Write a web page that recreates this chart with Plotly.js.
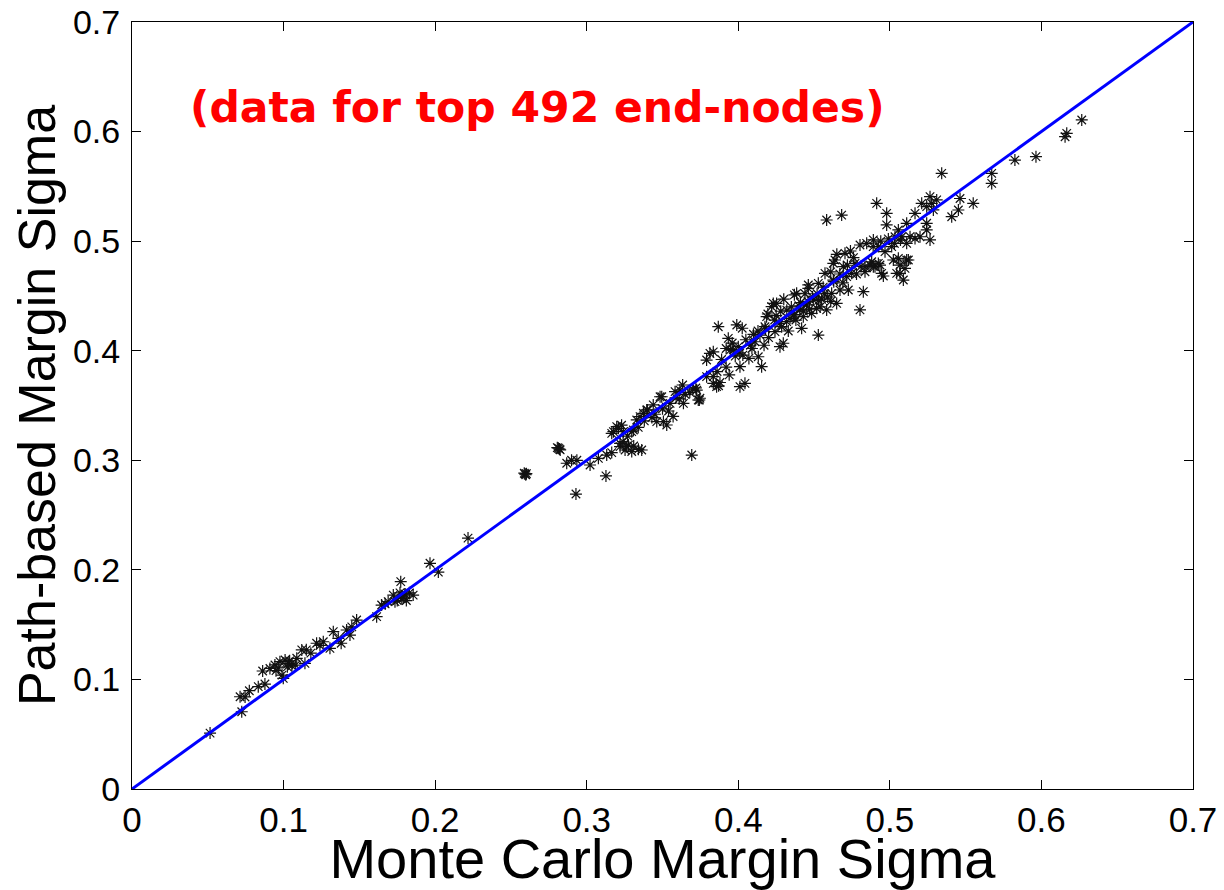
<!DOCTYPE html>
<html>
<head>
<meta charset="utf-8">
<script src="https://cdn.plot.ly/plotly-3.0.1.min.js"></script>
<style>
  html, body { margin: 0; padding: 0; background: #fff; }
  #chart { width: 1224px; height: 890px; }
</style>
</head>
<body>
<div id="chart"></div>
<script>
// Monte Carlo margin sigma (x) vs path-based margin sigma (y)
const mcSigma = [
  0.0515,0.0724,0.0713,0.0746,0.0774,0.0833,0.0877,0.0862,0.091,0.0943,0.0976,0.101,0.1031,0.0998,0.099,0.1087,0.112,0.115,0.1141,0.1218,
  0.1262,0.1306,0.1328,0.1361,0.138,0.1416,0.1438,0.1482,0.1614,0.1647,0.167,0.1724,0.1768,0.179,0.183,0.1855,0.181,0.175,0.1735,0.1773,
  0.1966,0.2021,0.2217,0.1055,0.0965,0.104,0.1025,
  0.095,0.108,0.118,0.124,0.145,0.169,0.178,0.180,
  0.2593,0.2598,0.2588,0.2602,0.2813,0.2820,0.2806,0.2825,0.2868,0.290,0.2935,0.2929,0.3022,0.3077,0.3127,0.3132,0.3165,0.3176,0.3209,0.323,
  0.322,0.3253,0.3275,0.3297,0.331,0.3341,0.3363,0.3297,0.333,0.3374,0.340,0.3439,0.343,0.3462,0.3495,0.3528,0.354,0.357,0.3583,0.3633,
  0.361,0.3638,0.368,0.372,0.3743,0.3693,0.3835,0.387,0.394,
  0.3484,0.3615,0.3726,0.3736,0.3396,0.3506,0.3352,0.3198,0.3242,0.3308,0.3165,0.322,0.3264,0.3835,0.3857,0.4011,0.3813,0.3791,
  0.334,0.338,0.345,0.350,0.355,0.359,0.365,0.370,0.327,0.324,
  0.3868,0.399,0.4026,0.3835,0.3791,0.3879,0.3747,0.3934,0.396,0.392,0.3967,0.400,0.4011,0.4044,0.403,0.407,0.409,0.411,0.4143,0.4154,
  0.4132,0.4176,0.4187,0.422,0.4253,0.4242,0.4275,0.4297,0.4286,0.4319,0.4341,0.4363,0.4385,0.4407,0.4418,0.4429,0.4451,0.4462,0.4484,0.4495,
  0.4528,0.4528,0.4517,0.455,0.4572,0.4583,0.4616,0.4627,0.4649,0.4671,0.4638,0.4693,0.4726,0.4715,0.4803,0.4825,0.4748,0.4770,0.4836,0.4880,
  0.4946,0.5045,0.4627,0.4704,0.4462,0.4370,0.4231,0.4195,
  0.427,0.433,0.438,0.441,0.447,0.452,0.456,0.459,0.444,0.435,0.420,0.417,0.425,0.430,0.410,0.405,0.398,0.392,0.389,0.386,
  0.432,0.437,0.440,0.443,0.446,0.449,0.453,0.428,0.424,0.418,0.413,0.408,0.401,0.395,0.463,0.467,0.472,0.454,0.457,0.461,
  0.4913,0.4979,0.4979,0.5342,0.521,0.5265,0.5276,0.5243,0.5309,0.5287,0.5166,0.5111,0.5243,0.5243,0.5056,0.5034,0.5078,0.5133,0.5166,0.5199,
  0.5265,0.5111,0.4891,0.4847,0.4803,0.5012,0.4924,0.4968,0.5056,0.5111,0.5067,0.510,0.4869,0.4902,0.4935,0.4836,0.4957,0.5089,
  0.5463,0.555,0.5452,0.5408,0.5672,0.5672,0.5825,0.5964,0.6167,0.6156,0.6266,0.4583,0.4682,
  0.5023,0.5067,0.5122,0.4891,0.4924,
  0.499,0.503,0.507,0.494,0.489,0.465,0.461,0.469,0.476,0.478,0.481,0.474
];
const pathSigma = [
  0.051,0.0705,0.0842,0.084,0.0897,0.0934,0.0958,0.1077,0.110,0.1132,0.1162,0.1177,0.1147,0.101,0.104,0.1193,0.1269,0.127,0.1147,0.133,
  0.1344,0.1284,0.1436,0.1375,0.133,0.1451,0.1405,0.1542,0.1573,0.1679,0.169,0.177,0.179,0.175,0.179,0.177,0.172,0.172,0.171,0.1892,
  0.206,0.198,0.229,0.1125,0.1105,0.117,0.1115,
  0.108,0.113,0.124,0.131,0.148,0.171,0.174,0.178,
  0.2875,0.2868,0.2882,0.2878,0.311,0.3102,0.3115,0.3095,0.2973,0.300,0.300,0.2692,0.2957,0.3018,0.2857,0.3048,0.307,0.3261,0.3292,0.332,
  0.3124,0.3094,0.3139,0.308,0.313,0.310,0.3094,0.3261,0.3368,0.3429,0.346,0.3505,0.339,0.3353,0.358,0.3322,0.345,0.340,0.3626,0.3687,
  0.356,0.352,0.362,0.366,0.355,0.3048,0.3763,0.368,0.378,
  0.358,0.3641,0.3641,0.3550,0.3459,0.3353,0.3398,0.3307,0.3261,0.3276,0.3246,0.3155,0.3124,0.3702,0.3672,0.3672,0.3976,0.3915,
  0.330,0.336,0.342,0.347,0.352,0.357,0.360,0.365,0.322,0.317,
  0.4219,0.4235,0.4205,0.399,0.3763,0.371,0.3566,0.4113,0.407,0.402,0.4007,0.4037,0.3854,0.3702,0.396,0.393,0.402,0.4082,0.4143,0.3854,
  0.3945,0.4219,0.4311,0.4402,0.4432,0.4174,0.4037,0.4068,0.4219,0.4265,0.4296,0.4326,0.4524,0.437,0.4204,0.4311,0.4417,0.4569,0.4341,0.4463,
  0.4143,0.4615,0.4387,0.447,0.4706,0.4372,0.4524,0.4645,0.4432,0.4554,0.4828,0.4767,0.4554,0.4676,0.4372,0.4539,0.4706,0.4797,0.4767,0.4812,
  0.4706,0.4706,0.4798,0.4889,0.46,0.4510,0.4432,0.4335,
  0.425,0.418,0.428,0.444,0.438,0.452,0.458,0.449,0.452,0.440,0.412,0.405,0.432,0.447,0.415,0.410,0.395,0.385,0.392,0.381,
  0.437,0.433,0.441,0.436,0.445,0.449,0.446,0.436,0.428,0.420,0.418,0.405,0.398,0.401,0.463,0.470,0.478,0.440,0.452,0.445,
  0.5345,0.5254,0.5148,0.5619,0.5345,0.5406,0.5345,0.5315,0.5376,0.5285,0.5254,0.5163,0.5163,0.5102,0.5102,0.504,0.504,0.5041,0.5025,0.504,
  0.5011,0.4980,0.5011,0.4980,0.4965,0.4950,0.4950,0.4904,0.4843,0.4828,0.4782,0.4752,0.4782,0.4767,0.4782,0.4721,0.4682,0.4645,
  0.5389,0.5345,0.5284,0.5223,0.5619,0.5527,0.574,0.5771,0.5984,0.5953,0.6106,0.5193,0.5238,
  0.4828,0.4706,0.4828,0.4767,0.4797,
  0.502,0.498,0.501,0.500,0.495,0.488,0.472,0.462,0.485,0.470,0.477,0.491
];
// reference line y = x
const refLineX = [0, 0.7];
const refLineY = [0, 0.7];

const xTicks = [0, 0.1, 0.2, 0.3, 0.4, 0.5, 0.6, 0.7];
const xTickText = ['0', '0.1', '0.2', '0.3', '0.4', '0.5', '0.6', '0.7'];
const yTicks = [0, 0.1, 0.2, 0.3, 0.4, 0.5, 0.6, 0.7];
const yTickText = ['0', '0.1', '0.2', '0.3', '0.4', '0.5', '0.6', '0.7'];

const annotationText = '(data for top 492 end-nodes)';
const xTitle = 'Monte Carlo Margin Sigma';
const yTitle = 'Path-based Margin Sigma';

const traces = [
  {
    x: mcSigma, y: pathSigma, type: 'scatter', mode: 'markers',
    marker: { symbol: 'asterisk-open', size: 10, color: '#111', line: { color: '#111', width: 1.2 } },
    hoverinfo: 'x+y', showlegend: false
  },
  {
    x: refLineX, y: refLineY, type: 'scatter', mode: 'lines',
    line: { color: '#0000ff', width: 3 }, showlegend: false
  }
];

const FONT = 'Liberation Sans, Arial, sans-serif';
const axisCommon = {
  showgrid: false, zeroline: false, showline: true, linecolor: '#000', linewidth: 1,
  mirror: 'ticks', ticks: 'inside', ticklen: 9, tickwidth: 1, tickcolor: '#000',
  tickmode: 'array', fixedrange: true
};

const layout = {
  width: 1224, height: 890,
  margin: { l: 132, r: 31, t: 22, b: 101, pad: 0 },
  paper_bgcolor: '#fff', plot_bgcolor: '#fff',
  xaxis: Object.assign({}, axisCommon, {
    range: [0, 0.7], tickvals: xTicks, ticktext: xTickText,
    tickfont: { family: FONT, size: 35, color: '#000' },
    ticklabelstandoff: 0,
    title: { text: xTitle, font: { family: FONT, size: 56, color: '#000' }, standoff: 0 }
  }),
  yaxis: Object.assign({}, axisCommon, {
    range: [0, 0.7], tickvals: yTicks, ticktext: yTickText,
    tickfont: { family: FONT, size: 34, color: '#000' },
    ticklabelstandoff: 4,
    title: { text: yTitle, font: { family: FONT, size: 52, color: '#000' }, standoff: 0 }
  }),
  annotations: [{
    xref: 'paper', yref: 'paper', x: 0.0528, y: 0.888, xanchor: 'left', yanchor: 'middle',
    text: annotationText, showarrow: false,
    font: { family: 'DejaVu Sans, Verdana, sans-serif', size: 42.5, color: '#ff0000', weight: 'bold' }
  }]
};

Plotly.newPlot('chart', traces, layout, { displayModeBar: false, staticPlot: true });
</script>
</body>
</html>
